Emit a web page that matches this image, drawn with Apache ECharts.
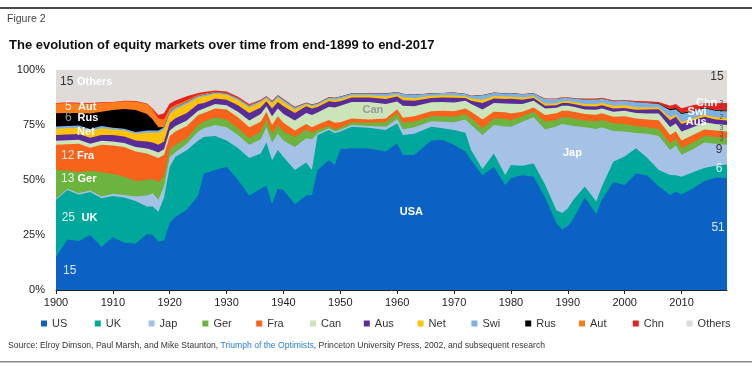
<!DOCTYPE html>
<html><head><meta charset="utf-8">
<script src="https://cdn.jsdelivr.net/npm/echarts@6/dist/echarts.min.js"></script>
<style>html,body{margin:0;padding:0;background:#fff}#c{width:754px;height:366px}</style>
</head><body><div id="c"></div>
<script>
// ---- data (share of world equity market, %) ----
const years = [1900,1902,1904,1906,1908,1910,1912,1914,1916,1917,1918,1919,1920,1921,1923,1925,1926,1928,1930,1932,1934,1936,1937,1938,1939,1940,1942,1944,1945,1946,1948,1949,1950,1952,1955,1958,1960,1961,1963,1966,1968,1970,1972,1973,1975,1977,1979,1980,1982,1984,1986,1988,1989,1990,1991,1993,1995,1996,1998,2000,2002,2004,2006,2008,2009,2010,2012,2014,2016,2018];
const US  = [15,23,22.3,25,19.7,24,21.5,21,25.5,25,22,22.5,30.5,33.3,36.5,43,53,54.5,56,50,43,46,47.5,39,46,45.5,39,43,43.2,54.5,59,56.8,64,64.4,64.3,63,66.7,61.4,61.4,68,68.2,65.9,63,59,52,56,47.7,50.8,52.3,51.5,42,30.3,27.5,29,32.5,42,34.5,41,49,47.7,53,52,47,43.2,44.7,43.5,46,49.5,51,51];
const UK  = [26,22.5,21,19.5,22,18.7,20.5,19.5,12.5,13,13.6,19.5,25.5,27.3,27,25,16.5,15.5,12,14.5,17,16,19.5,20,17.6,15,15.5,15,11.3,16,13.7,14.4,8,9.8,9.4,9.7,9,9.1,9.6,6.2,5.3,6.8,8.5,4.6,3,6,4.6,6,4.2,6,6,6,7.5,8,8.5,5,5.7,6,9.3,13,11.4,8,7.5,9.1,7.5,8,7.5,6,5.5,6];
const Jap = [0.5,0.5,0.7,0.7,0.8,1,1.2,2,5,6,5.4,5,4.5,2,3,4,4,5,6,6,6,6.5,7,8,7.4,7.5,10.5,11,14,0.7,0.8,0.8,0.8,0.8,0.8,1.5,2,2.5,3,2.5,3,3.5,6,11.4,15.5,13,22,17.4,20,21,25,38,40.5,38,33.5,27,33,27,14,11.3,7,11,15.5,11.3,13.5,10,10.5,11.5,10,9];
const Ger = [13,8.3,9.5,9,11,9,8.3,7,7,6.5,8,4.5,3.5,3.5,2.5,3,3,3.5,3.5,3,3,3.5,3.5,4,4,4,4.5,4,3,1.5,1,1,1,1.2,1.5,2,2.5,3,2.5,2.3,2.5,2.5,2.5,3,3,3,3.5,3,2.5,2.5,3.5,3,3,3.5,3.5,3,3.5,3.3,3.5,3.5,3,3,3.2,3,3,3,3,3,3,3];
const Fra = [11.5,12,13,10.5,12.5,13,13.5,13.5,12,10.5,11,10,6,6,5.5,4.5,4,4,4.5,5,5,4.5,3.5,4,4,4,3,2.5,2.5,2.5,2.8,3,2.5,1.8,1.5,1.8,2,2.3,2.5,2.3,2.5,2.5,2.5,3,4,3,3,3,2,2,3,3,3,3,3,3,3,3,3,3.5,3.5,3.5,4,3.8,3.5,3.5,3.5,3,3,3];
const Can = [1.8,1.8,1.8,1.8,1.8,1.8,1.8,2,2.3,2.5,2.5,2.5,2.5,2.5,2.5,2,2,2,2,2.5,3,3.5,2.5,4,3.5,4,4.5,5,5.5,5.5,6,7,7.5,7.5,8,6.5,3.5,5.5,4.5,4,4,4,3.5,3.5,4.5,4,4,4.5,3.5,3,3,2.5,2.3,2.3,2.3,2,2.2,2.2,2.2,2.5,2.5,2.7,3,3.7,3.5,4,3.5,3.3,3,3];
const Aus = [2.7,2.6,2.6,2.7,2.7,3,3,3,3.2,3.5,3.5,3.5,3.5,3.5,3.5,3,2.5,2.5,2.5,3,3.5,3,2.3,3.5,3,3.5,3.5,3,3,2.5,2.5,2.5,2,2,2,2.3,2.2,2.5,2.5,2,2,2.2,1.3,1.5,3,2,2,2.2,2,1.3,1.3,1.2,1.2,1.2,1.2,1.5,1.5,1.5,1.5,1.2,1.5,1.8,2,3.1,3,3.5,3,2.5,2,2];
const Net = [2.8,2.8,2.9,3,3,2.5,2.7,3,4,4.5,5.5,5.5,4,4,4,3,3,2.2,2.2,2.3,2.5,2.3,1.5,2.3,2,2,1.5,1,1,1,1,1,1,1,1,1.2,1,1.3,1.2,1,1,1,0.8,1,1.5,1.2,1.2,1,1,0.8,1,0.8,0.8,0.9,1,1,1.1,1.1,1.3,1.3,1.2,1,0.8,1.2,1,1,1,1,1,1.2];
const Swi = [1,1,1,1,1,0.8,0.8,0.8,1,1,1,1,1,1,1,0.7,0.7,0.6,0.6,0.7,0.8,0.7,0.5,0.8,0.8,1,1,0.5,0.7,0.6,0.7,0.8,1,0.8,0.8,1.2,1,1.5,1.5,1,1,1.3,1,1.2,2,1.5,1.3,1.5,1.5,1.2,2,2,1.5,1.5,1.5,2,2,1.8,2,2,2.2,2,1.5,3.3,2.5,3.5,3,2.8,3,3];
const Rus = [6,6,5.7,7,6.5,8,9,10,7.5,5,1.5,0,0,0,0,0,0,0,0,0,0,0,0,0,0,0,0,0,0,0,0,0,0,0,0,0,0,0,0,0,0,0,0,0,0,0,0,0,0,0,0,0,0,0,0,0,0,0,0,0,0,0,0.3,0.5,0.5,0.5,0.4,0.3,0.3,0.4];
const Aut = [4.5,4.5,4.3,4.5,4,3.5,3.5,3.8,4.5,4.5,4,3.5,1.5,1,0.8,0.5,0.5,0.3,0.3,0.3,0.3,0.2,0.2,0.2,0.1,0.1,0.1,0.1,0.1,0.1,0.1,0.1,0.1,0.1,0.1,0.1,0.1,0.1,0.1,0.1,0.1,0.1,0.1,0.1,0.1,0.1,0.1,0.1,0.1,0.1,0.2,0.3,0.3,0.3,0.2,0.2,0.2,0.2,0.2,0.1,0.1,0.1,0.1,0.1,0.1,0.1,0.1,0.1,0.1,0.2];
const Chn = [0.2,0.3,0.3,0.3,0.3,0.2,0.2,0.3,0.3,0.5,1.5,2.8,2.3,2,1.8,0.8,0.8,0.6,0.6,0.5,0.5,0.3,0.2,0.2,0.2,0.2,0.2,0.1,0.1,0.1,0.1,0,0,0,0,0.1,0,0,0,0,0,0,0,0,0,0,0,0,0,0,0,0,0,0,0,0.4,0.3,0.3,0.3,0.3,0.5,0.7,0.6,1.5,1.8,2,2.5,2,3,3.2];
const Others = [15,14.7,14.9,15,14.7,14.5,14,14.1,15.2,17.5,20.5,19.7,15.2,13.9,11.9,10.5,10,9.3,9.8,12.2,15.4,13.5,11.8,14,11.4,13.2,16.7,14.8,15.6,15,12.3,12.6,12.1,10.6,10.6,10.6,10,10.8,11.2,10.6,10.4,10.2,10.8,11.7,11.4,10.2,10.6,10.5,10.9,10.6,13,12.9,12.4,12.3,12.8,12.9,13,12.6,13.7,13.6,14.1,14.2,14.5,16.2,15.4,17.4,16,15,15.1,15];
const decadeTicks = [1900,1910,1920,1930,1940,1950,1960,1970,1980,1990,2000,2010];
const pctTicks = [0,25,50,75,100];
const seriesNames = ['US','UK','Jap','Ger','Fra','Can','Aus','Net','Swi','Rus','Aut','Chn','Others'];

// ---- styling ----
const FF = '"Liberation Sans", Arial, Helvetica, sans-serif';
const colors = ['#0b61c4','#00a89c','#a5c1e6','#6cb33f','#f8631c','#cbe4b8','#5a2c98','#fec20b','#7db1e4','#000000','#fb7c1c','#e2231e','#dfdbd8'];
const seriesValues = [US,UK,Jap,Ger,Fra,Can,Aus,Net,Swi,Rus,Aut,Chn,Others];

// stacked tops (the library's own stack does not work on a value x axis here)
const stackTops = [];
let running = years.map(()=>0);
seriesValues.forEach(vals=>{ running = running.map((r,j)=>r+vals[j]); stackTops.push(running.slice()); });

const chart = echarts.init(document.getElementById('c'));
const series = seriesNames.map((n,i)=>({
  name:n, type:'line', symbol:'none', showSymbol:false, smooth:false, z: 30 - i,
  lineStyle:{width:0, color:colors[i]}, areaStyle:{color:colors[i], opacity:1},
  itemStyle:{color:colors[i]}, emphasis:{disabled:true},
  data: years.map((y,j)=>[y, stackTops[i][j]])
}));

// one legend slot per series, evenly spaced as in the figure
const legends = seriesNames.map((n,i)=>({
  left: 36 + i*53.8, top: 313, itemWidth:6, itemHeight:6, icon:'rect', selectedMode:false,
  data:[n], textStyle:{fontSize:11, color:'#333', fontFamily:FF}
}));

chart.setOption({
  animation:false,
  textStyle:{fontFamily:FF},
  grid:{left:56, right:27, top:70, bottom:76, containLabel:false},
  xAxis:{type:'value', min:1900, max:2018, interval:10,
    axisLine:{show:true, lineStyle:{color:'#222', width:1}},
    axisTick:{show:true, length:4, customValues:decadeTicks, lineStyle:{color:'#222'}},
    axisLabel:{customValues:decadeTicks, color:'#222', fontSize:11, fontFamily:FF, margin:7,
      formatter:v=> (v%10===0 && v<=2010) ? String(v) : ''},
    splitLine:{show:false}},
  yAxis:{type:'value', min:0, max:100, interval:25,
    axisLine:{show:false}, axisTick:{show:false}, splitLine:{show:false},
    axisLabel:{customValues:pctTicks, formatter:'{value}%', color:'#222', fontSize:11, fontFamily:FF, margin:11}},
  legend: legends,
  series
});

const P = (x,y)=>chart.convertToPixel({gridIndex:0},[x,y]);
function lab(x,y,text,opt){
  const p = P(x,y);
  opt = opt||{};
  return {type:'text', x:p[0], y:p[1], z:100, silent:true,
    style:{text, fill:opt.fill||'#fff', fontSize:opt.size||11, fontWeight:opt.bold?'bold':'normal',
      fontFamily:FF, align:opt.align||'left', verticalAlign:'middle'}};
}
const L='rgba(255,255,255,0.85)', D='#333333';
const g = [
  {type:'rect', shape:{x:0,y:7,width:752,height:2}, style:{fill:'#4a4a4a'}, silent:true},
  {type:'text', x:7, y:19, style:{text:'Figure 2', fill:'#444', fontSize:10.5, fontFamily:FF, verticalAlign:'middle'}},
  {type:'text', x:9, y:45, style:{text:'The evolution of equity markets over time from end-1899 to end-2017', fill:'#111', fontSize:13, fontWeight:'bold', fontFamily:FF, verticalAlign:'middle'}},
  {type:'text', x:8, y:346, style:{
    text:'Source: Elroy Dimson, Paul Marsh, and Mike Staunton, {b|Triumph of the Optimists}, Princeton University Press, 2002, and subsequent research',
    fill:'#333', fontSize:8.6, fontFamily:FF, verticalAlign:'middle',
    rich:{b:{fill:'#2a7fd0', fontSize:8.6, fontFamily:FF}}}},
  {type:'rect', shape:{x:0,y:361,width:752,height:1.5}, style:{fill:'#8a8a8a'}, silent:true},
  // left labels
  lab(1900.7,94.7,'15',{fill:D,size:12}), lab(1903.69,94.7,'Others',{bold:true,size:11}),
  lab(1901.58,83.3,'5',{fill:L,size:12}), lab(1903.87,83.3,'Aut',{bold:true}),
  lab(1901.58,78.2,'6',{fill:'#9a9a9a',size:12}), lab(1903.78,78.2,'Rus',{bold:true}),
  lab(1903.69,72,'Net',{bold:true}),
  lab(1900.88,60.9,'12',{fill:L,size:12}), lab(1903.69,60.9,'Fra',{bold:true}),
  lab(1900.88,50.6,'13',{fill:L,size:12}), lab(1903.78,50.6,'Ger',{bold:true}),
  lab(1901.0,32.9,'25',{fill:L,size:12}), lab(1904.5,32.9,'UK',{bold:true}),
  lab(1901.23,8.8,'15',{fill:L,size:12}),
  // centre labels
  lab(1953.9,81.8,'Can',{fill:'#9a9a9a',bold:true}),
  lab(1960.46,35.6,'USA',{bold:true}),
  lab(1989.16,62.1,'Jap',{bold:true}),
  // right labels
  lab(2017.4,97,'15',{fill:D,size:12,align:'right'}),
  lab(2016.3,85.1,'Chn',{bold:true,align:'right'}),
  lab(2014.4,81.05,'Swi',{bold:true,align:'right'}),
  lab(2014.4,76.5,'Aus',{bold:true,align:'right'}),
  lab(2016.7,85.1,'3',{fill:'#555',size:7}), lab(2016.7,81.8,'3',{fill:'#555',size:7}),
  lab(2016.7,78.5,'2',{fill:'#555',size:7}), lab(2016.7,73.5,'3',{fill:'#555',size:7}),
  lab(2016.7,70.9,'3',{fill:'#555',size:7}), lab(2016.7,68.5,'3',{fill:'#555',size:7}),
  lab(2017.2,63.95,'9',{fill:D,size:12,align:'right'}),
  lab(2017.2,55.3,'6',{fill:L,size:12,align:'right'}),
  lab(2017.6,28.3,'51',{fill:L,size:12,align:'right'})
];
chart.setOption({graphic:g});
</script>
</body></html>
